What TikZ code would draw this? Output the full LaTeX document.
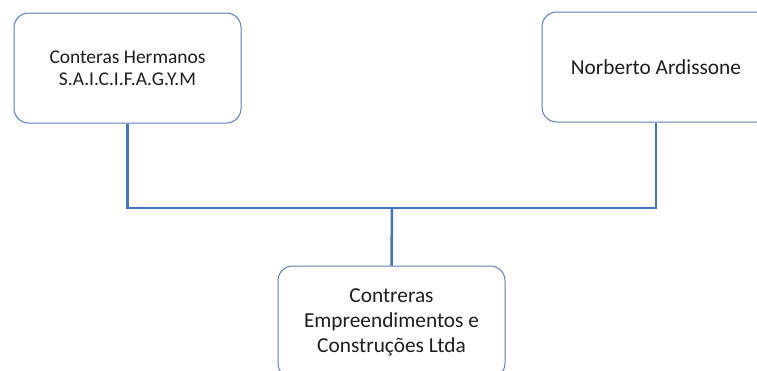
\documentclass[tikz,border=0pt]{standalone}
\usepackage{fontspec}
\setmainfont{Carlito}
\definecolor{boxline}{RGB}{91,125,190}
\definecolor{linkline}{RGB}{68,114,196}
\definecolor{txt}{RGB}{30,30,30}
\tikzset{
  company/.style={draw=boxline, line width=0.75pt, rounded corners=11pt, fill=white,
    minimum width=170.25pt, minimum height=82.5pt, align=center, text=txt,
    font=\fontsize{16}{18.8}\selectfont},
  link/.style={draw=linkline, line width=1.9pt}
}
\begin{document}
\begin{tikzpicture}[x=0.75pt,y=0.75pt,yscale=-1,xscale=1]
    \clip (0,0) rectangle (757,371);
    \fill[white] (0,0) rectangle (757,371);

    % Company boxes
    \node[company, font=\fontsize{14.6}{16.5}\selectfont] (conteras) at (127.5,68) {Conteras Hermanos\\S.A.I.C.I.F.A.G.Y.M};
    \node[company, minimum width=171pt] (norberto) at (656,67) {Norberto Ardissone};
    \node[company, minimum height=84pt] (contreras) at (391.5,322) {Contreras\\Empreendimentos e\\Construções Ltda};

    % Connectors
    \coordinate (junction) at (392,208);
    \draw[link] (conteras.south) |- (junction) -| (norberto.south);
    \draw[link] (junction) -- (contreras.north);
\end{tikzpicture}
\end{document}
